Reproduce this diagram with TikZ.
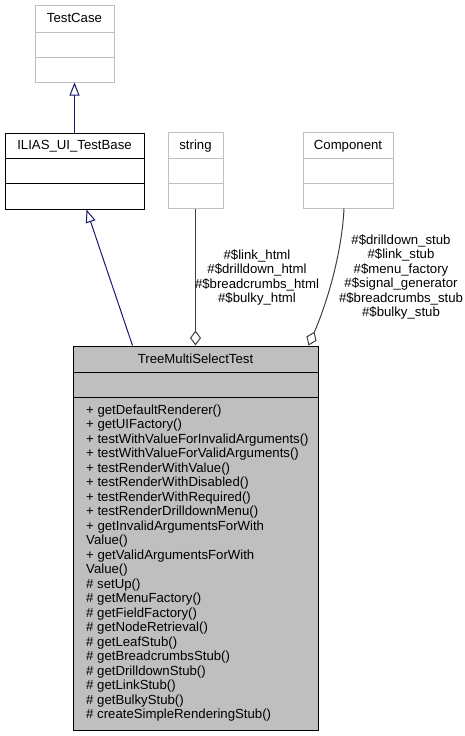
\documentclass[tikz,border=0pt]{standalone}
\usepackage{fontspec}
\setmainfont{Liberation Sans}
\usetikzlibrary{arrows.meta,calc}
\definecolor{edgeblue}{HTML}{191970}
\definecolor{edgegray}{HTML}{404040}
\definecolor{boxgray}{HTML}{BFBFBF}
\tikzset{
  txt/.style={font=\fontsize{13.2}{14.5}\selectfont, inner sep=0pt},
  graybox/.style={draw=boxgray, line width=1pt, fill=white, inner sep=0pt},
  blackbox/.style={draw=black, line width=1pt, fill=white, inner sep=0pt},
  mainbox/.style={draw=black, line width=1pt, fill=boxgray, inner sep=0pt},
  inh/.style={draw=edgeblue, line width=1pt, -{Triangle[open, length=13pt, width=10pt]}},
  agg/.style={draw=edgegray, line width=1pt, {Diamond[open, length=15pt, width=11pt]}-},
}
\begin{document}
\begin{tikzpicture}[x=1pt, y=-1pt]
\useasboundingbox (0,0) rectangle (465,736);
\fill[white] (0,0) rectangle (465,736);

% TestCase
\node[graybox, minimum width=79pt, minimum height=77pt] (testcase) at (74.5,43.5) {};
\draw[boxgray, line width=1pt] (35,32) -- (114,32) (35,57) -- (114,57);
\node[txt, anchor=base] (testcaseT) at (74.5,22.5) {TestCase};

% ILIAS_UI_TestBase
\node[blackbox, minimum width=139pt, minimum height=76pt] (ilias) at (74.5,171) {};
\draw[black, line width=1pt] (5,158) -- (144,158) (5,183) -- (144,183);
\node[txt, anchor=base] (iliasT) at (74.5,149.5) {ILIAS\_UI\_TestBase};

% string
\node[graybox, minimum width=55pt, minimum height=76pt] (string) at (195.5,170) {};
\draw[boxgray, line width=1pt] (168,158) -- (223,158) (168,183) -- (223,183);
\node[txt, anchor=base] (stringT) at (195.5,149) {string};

% Component
\node[graybox, minimum width=90pt, minimum height=76pt] (component) at (348,170) {};
\draw[boxgray, line width=1pt] (303,158) -- (393,158) (303,183) -- (393,183);
\node[txt, anchor=base] (componentT) at (348,149) {Component};

% TreeMultiSelectTest
\node[mainbox, minimum width=245pt, minimum height=384pt] (main) at (195.5,538) {};
\draw[black, line width=1pt] (73,372) -- (318,372) (73,397) -- (318,397);
\node[txt, anchor=base] (mainT) at (195.5,363) {TreeMultiSelectTest};
\foreach [count=\i] \t in {
  {+ getDefaultRenderer()},
  {+ getUIFactory()},
  {+ testWithValueForInvalidArguments()},
  {+ testWithValueForValidArguments()},
  {+ testRenderWithValue()},
  {+ testRenderWithDisabled()},
  {+ testRenderWithRequired()},
  {+ testRenderDrilldownMenu()},
  {+ getInvalidArgumentsForWith},
  {Value()},
  {+ getValidArgumentsForWith},
  {Value()},
  {\# setUp()},
  {\# getMenuFactory()},
  {\# getFieldFactory()},
  {\# getNodeRetrieval()},
  {\# getLeafStub()},
  {\# getBreadcrumbsStub()},
  {\# getDrilldownStub()},
  {\# getLinkStub()},
  {\# getBulkyStub()},
  {\# createSimpleRenderingStub()}}
  \node[txt, anchor=base west] (m\i) at (86,{414+14.52*(\i-1)}) {\t};

% edges
\draw[inh] (ilias.north) -- (testcase.south);
\draw[inh] ($(main.north west)+(60,0)$) -- ($(ilias.south west)+(82,0)$);
\draw[agg] (main.north) -- (string.south);
\draw[agg] ($(main.north east)+(-10,0)$) .. controls ($(main.north east)+(10,-46)$) and ($(component.south)+(-6,42)$) .. ($(component.south)+(-4,0)$);

% labels
\node[txt, align=center] (stringL) at (257,277.5) {\#\$link\_html\\\#\$drilldown\_html\\\#\$breadcrumbs\_html\\\#\$bulky\_html};
\node[txt, align=center] (componentL) at (401,277) {\#\$drilldown\_stub\\\#\$link\_stub\\\#\$menu\_factory\\\#\$signal\_generator\\\#\$breadcrumbs\_stub\\\#\$bulky\_stub};
\end{tikzpicture}
\end{document}
